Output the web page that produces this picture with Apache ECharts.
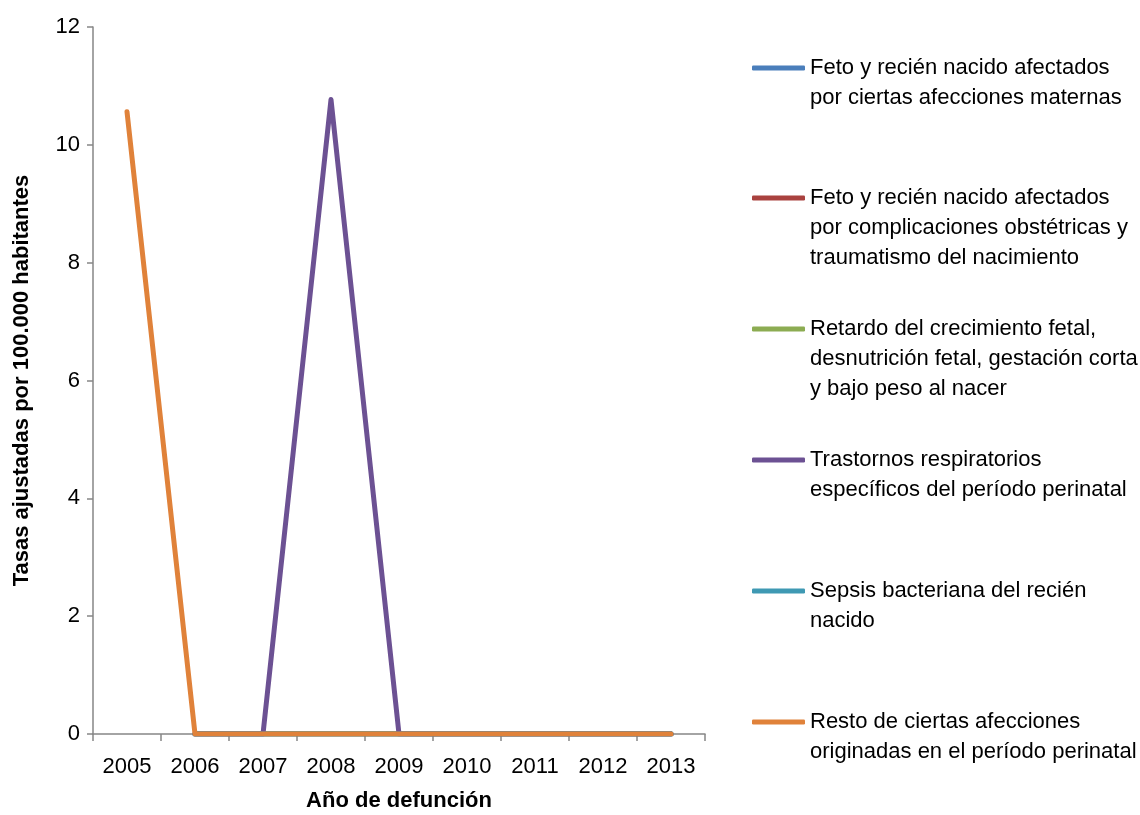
<!DOCTYPE html>
<html>
<head>
<meta charset="utf-8">
<style>
  html, body { margin: 0; padding: 0; background: #ffffff; overflow: hidden; }
  #chart { width: 1140px; height: 815px; }
</style>
<script src="https://cdn.jsdelivr.net/npm/echarts@6/dist/echarts.min.js"></script>
</head>
<body>
<div id="chart"></div>
<script>
// Años de defunción (eje X)
const years = ['2005', '2006', '2007', '2008', '2009', '2010', '2011', '2012', '2013'];

// Tasas ajustadas por 100.000 habitantes, por grupo de causa
const maternas       = [null, 0, 0, 0, 0, 0, 0, 0, 0];
const complicaciones = [null, 0, 0, 0, 0, 0, 0, 0, 0];
const retardo        = [null, 0, 0, 0, 0, 0, 0, 0, 0];
const respiratorios  = [null, 0, 0, 10.77, 0, 0, 0, 0, 0];
const sepsis         = [null, 0, 0, 0, 0, 0, 0, 0, 0];
const resto          = [10.56, 0, 0, 0, 0, 0, 0, 0, 0];

// Nombres de las series (texto de la leyenda, con saltos de línea)
const seriesNames = [
  'Feto y recién nacido afectados\npor ciertas afecciones maternas',
  'Feto y recién nacido afectados\npor complicaciones obstétricas y\ntraumatismo del nacimiento',
  'Retardo del crecimiento fetal,\ndesnutrición fetal, gestación corta\ny bajo peso al nacer',
  'Trastornos respiratorios\nespecíficos del período perinatal',
  'Sepsis bacteriana del recién\nnacido',
  'Resto de ciertas afecciones\noriginadas en el período perinatal'
];
const seriesData = [maternas, complicaciones, retardo, respiratorios, sepsis, resto];
const seriesColors = ['#4a7ebb', '#a9423f', '#8cac52', '#6c5193', '#3f99b3', '#e0823a'];

const FONT = '"Liberation Sans", Arial, sans-serif';
const FS = 22;
const LH = 30;
const legendCenters = [68, 198, 329, 460, 591, 722];

const chart = echarts.init(document.getElementById('chart'), null, { renderer: 'canvas' });

// Una leyenda por serie; líneas vacías al inicio dejan el icono a la altura de la primera línea
const legends = seriesNames.map((name, i) => {
  const n = name.split('\n').length;
  return {
    data: [name],
    orient: 'vertical',
    left: 752,
    top: legendCenters[i] - ((2 * n - 1) * LH) / 2,
    padding: 0,
    icon: 'roundRect',
    itemWidth: 53,
    itemHeight: 5,
    itemGap: 0,
    selectedMode: false,
    formatter: (label) => '\n'.repeat(n - 1) + label,
    textStyle: {
      fontFamily: FONT,
      fontSize: FS,
      lineHeight: LH,
      color: '#000'
    }
  };
});

const option = {
  animation: false,
  backgroundColor: '#ffffff',
  grid: { left: 93, right: 435, top: 27, bottom: 81, containLabel: false, outerBoundsMode: 'none' },
  legend: legends,
  xAxis: {
    type: 'category',
    data: years,
    boundaryGap: true,
    name: 'Año de defunción',
    nameLocation: 'middle',
    nameGap: 56,
    nameTextStyle: { fontFamily: FONT, fontSize: 22, fontWeight: 'bold', color: '#000' },
    axisLine: { show: true, lineStyle: { color: '#868686', width: 1.5 } },
    axisTick: { show: true, length: 7, alignWithLabel: false, interval: 0, lineStyle: { color: '#868686', width: 1.5 } },
    axisLabel: { fontFamily: FONT, fontSize: FS, color: '#000', margin: 22, interval: 0 },
    splitLine: { show: false }
  },
  yAxis: {
    type: 'value',
    min: 0,
    max: 12,
    interval: 2,
    name: 'Tasas ajustadas por 100.000 habitantes',
    nameLocation: 'middle',
    nameGap: 60,
    nameTextStyle: { fontFamily: FONT, fontSize: FS, fontWeight: 'bold', color: '#000' },
    axisLine: { show: true, lineStyle: { color: '#868686', width: 1.5 } },
    axisTick: { show: true, length: 6, lineStyle: { color: '#868686', width: 1.5 } },
    axisLabel: { fontFamily: FONT, fontSize: FS, color: '#000', margin: 13 },
    splitLine: { show: false }
  },
  series: seriesNames.map((name, i) => ({
    name: name,
    type: 'line',
    data: seriesData[i],
    symbol: 'none',
    connectNulls: false,
    color: seriesColors[i],
    lineStyle: { width: 5, color: seriesColors[i], cap: 'round', join: 'round' },
    z: 2 + i
  }))
};

chart.setOption(option);
</script>
</body>
</html>
